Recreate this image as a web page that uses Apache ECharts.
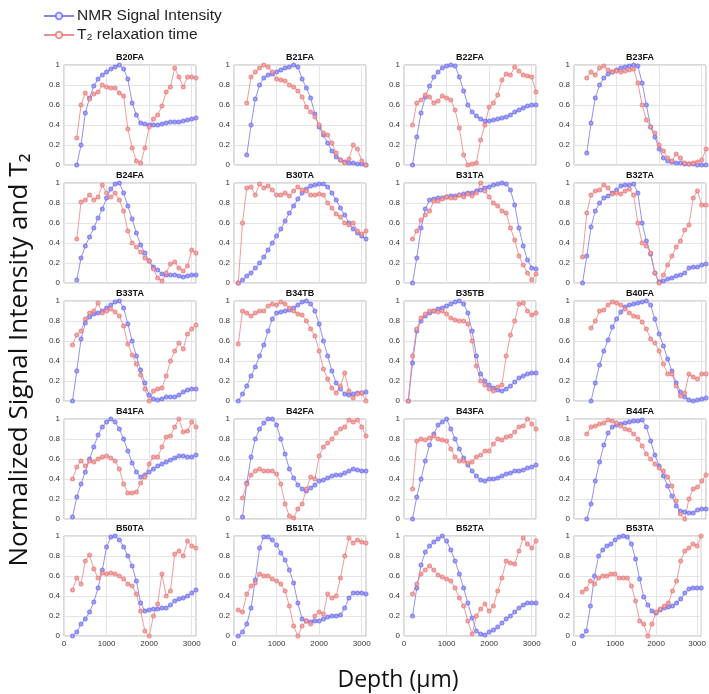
<!DOCTYPE html>
<html><head><meta charset="utf-8">
<script src="https://cdn.jsdelivr.net/npm/echarts@6/dist/echarts.min.js"></script>
<style>html,body{margin:0;padding:0;background:#fff}#chart{width:709px;height:694px}</style>
</head><body><div id="chart"></div>
<script>
// Depth grid (µm)
const depth = [100,200,300,400,500,600,700,800,900,1000,1100,1200,1300,1400,1500,1600,1700,1800,1900,2000,2100,2200,2300,2400,2500,2600,2700,2800,2900,3000,3100];
const xTickValues = [0,1000,2000,3000];
const yTickValues = [0,0.2,0.4,0.6,0.8,1];

const B20FA_nmr = [null,null,0.0,0.2,0.52,0.67,0.79,0.86,0.9,0.93,0.96,0.98,1.0,0.96,0.86,0.62,0.5,0.42,0.41,0.4,0.4,0.4,0.41,0.42,0.43,0.43,0.43,0.44,0.45,0.46,0.47];
const B20FA_t2  = [null,null,0.27,0.6,0.72,0.66,0.71,0.73,0.8,0.78,0.77,0.77,0.72,0.69,0.36,0.17,0.04,0.02,0.17,0.38,0.46,0.5,0.59,0.73,0.78,0.97,0.88,0.78,0.88,0.88,0.87];
const B21FA_nmr = [null,null,0.1,0.4,0.66,0.8,0.87,0.9,0.91,0.93,0.95,0.97,0.98,1.0,0.98,0.86,0.77,0.67,0.51,0.38,0.3,0.22,0.14,0.08,0.05,0.03,0.02,0.02,0.01,0.01,0.0];
const B21FA_t2  = [null,null,0.62,0.88,0.93,0.97,1.0,0.98,0.93,0.86,0.85,0.84,0.8,0.78,0.74,0.68,0.58,0.53,0.48,0.4,0.32,0.3,0.22,0.12,0.05,0.02,0.06,0.2,0.16,0.04,0.0];
const B22FA_nmr = [null,0.0,0.28,0.52,0.68,0.79,0.88,0.93,0.97,0.99,1.0,0.99,0.88,0.74,0.6,0.53,0.49,0.46,0.44,0.44,0.45,0.46,0.47,0.48,0.5,0.53,0.55,0.57,0.59,0.6,0.6];
const B22FA_t2  = [null,0.4,0.62,0.65,0.7,0.68,0.62,0.64,0.69,0.67,0.65,0.55,0.37,0.1,0.0,0.01,0.02,0.25,0.4,0.58,0.62,0.7,0.85,0.91,0.9,0.98,0.94,0.9,0.89,0.88,0.73];
const B23FA_nmr = [null,null,0.12,0.42,0.67,0.8,0.87,0.91,0.93,0.95,0.97,0.98,0.99,1.0,0.99,0.82,0.6,0.38,0.28,0.16,0.07,0.04,0.03,0.02,0.02,0.01,0.01,0.01,0.0,0.0,0.0];
const B23FA_t2  = [null,null,0.87,0.93,0.9,0.97,0.99,0.95,0.93,0.94,0.93,0.94,0.95,0.96,0.82,0.6,0.45,0.38,0.32,0.2,0.14,0.07,0.04,0.11,0.07,0.02,0.01,0.02,0.03,0.05,0.16];

const B24FA_nmr = [null,null,0.03,0.25,0.37,0.46,0.55,0.65,0.74,0.85,0.94,0.99,1.0,0.9,0.77,0.64,0.5,0.38,0.3,0.22,0.16,0.13,0.09,0.08,0.08,0.08,0.07,0.06,0.07,0.08,0.08];
const B24FA_t2  = [null,null,0.44,0.81,0.83,0.88,0.83,0.86,0.98,0.9,0.86,0.9,0.83,0.72,0.52,0.4,0.36,0.31,0.25,0.22,0.14,0.05,0.02,0.1,0.19,0.21,0.15,0.12,0.17,0.33,0.3];
const B30TA_nmr = [0.0,0.03,0.07,0.1,0.15,0.2,0.26,0.33,0.4,0.47,0.54,0.62,0.7,0.77,0.84,0.9,0.94,0.97,0.98,0.99,0.99,0.96,0.9,0.83,0.75,0.68,0.6,0.54,0.5,0.47,0.44];
const B30TA_t2  = [0.0,0.6,0.95,0.96,0.88,0.99,0.95,0.97,0.93,0.88,0.88,0.9,0.87,0.92,0.96,0.93,0.92,0.88,0.88,0.89,0.88,0.8,0.75,0.69,0.66,0.6,0.58,0.6,0.52,0.49,0.52];
const B31TA_nmr = [null,0.0,0.25,0.55,0.74,0.83,0.84,0.85,0.85,0.86,0.87,0.87,0.88,0.89,0.9,0.9,0.92,0.93,0.95,0.96,0.98,0.99,1.0,0.99,0.93,0.78,0.55,0.37,0.23,0.15,0.14];
const B31TA_t2  = [null,0.44,0.52,0.63,0.68,0.72,0.82,0.82,0.84,0.86,0.85,0.85,0.88,0.86,0.89,0.87,0.9,1.0,0.92,0.86,0.8,0.77,0.72,0.7,0.55,0.43,0.27,0.18,0.1,0.03,0.09];
const B32TA_nmr = [null,0.0,0.27,0.56,0.72,0.8,0.85,0.87,0.9,0.93,0.97,0.98,0.98,0.99,0.9,0.6,0.42,0.29,0.1,0.01,0.02,0.04,0.05,0.07,0.08,0.1,0.15,0.16,0.16,0.18,0.19];
const B32TA_t2  = [null,0.26,0.7,0.88,0.92,0.93,0.98,0.95,0.89,0.9,0.89,0.92,0.94,0.88,0.6,0.4,0.37,0.3,0.1,0.0,0.08,0.18,0.27,0.36,0.42,0.53,0.58,0.85,0.92,0.78,0.78];

const B33TA_nmr = [null,0.0,0.3,0.62,0.78,0.84,0.87,0.88,0.9,0.93,0.96,0.99,1.0,0.93,0.77,0.6,0.45,0.31,0.18,0.06,0.02,0.01,0.02,0.04,0.04,0.04,0.06,0.09,0.11,0.12,0.12];
const B33TA_t2  = [null,0.56,0.66,0.7,0.82,0.88,0.9,0.98,0.88,0.9,0.92,0.89,0.85,0.75,0.57,0.46,0.37,0.26,0.12,0.0,0.1,0.12,0.13,0.25,0.4,0.5,0.58,0.52,0.67,0.72,0.76];
const B34TB_nmr = [0.0,0.07,0.15,0.25,0.34,0.45,0.56,0.7,0.82,0.88,0.89,0.9,0.91,0.93,0.96,0.99,1.0,0.97,0.9,0.77,0.6,0.45,0.3,0.18,0.12,0.07,0.06,0.07,0.08,0.08,0.09];
const B34TB_t2  = [0.57,0.9,0.88,0.85,0.88,0.9,0.9,0.95,0.97,0.96,0.99,0.97,0.93,0.9,0.87,0.86,0.8,0.72,0.65,0.5,0.32,0.22,0.13,0.08,0.15,0.28,0.1,0.03,0.07,0.08,0.0];
const B35TB_nmr = [0.0,0.38,0.7,0.8,0.85,0.88,0.9,0.92,0.93,0.95,0.97,0.99,1.0,0.97,0.88,0.7,0.45,0.27,0.2,0.16,0.13,0.11,0.1,0.12,0.15,0.19,0.23,0.25,0.27,0.28,0.28];
const B35TB_t2  = [0.0,0.45,0.72,0.83,0.87,0.9,0.9,0.89,0.9,0.87,0.83,0.81,0.8,0.8,0.77,0.6,0.35,0.2,0.16,0.12,0.1,0.14,0.16,0.45,0.66,0.8,0.97,0.98,0.9,0.86,0.88];
const B40FA_nmr = [null,null,null,0.0,0.18,0.36,0.5,0.61,0.74,0.82,0.89,0.94,0.96,0.97,0.98,0.99,1.0,0.96,0.82,0.67,0.55,0.42,0.3,0.18,0.09,0.04,0.01,0.0,0.01,0.02,0.03];
const B40FA_t2  = [null,null,null,0.73,0.8,0.9,0.91,0.96,0.99,0.98,0.96,0.92,0.88,0.85,0.84,0.79,0.72,0.62,0.58,0.5,0.37,0.27,0.27,0.15,0.05,0.08,0.27,0.24,0.22,0.27,0.27];

const B41FA_nmr = [null,0.02,0.22,0.35,0.47,0.6,0.72,0.84,0.92,0.97,1.0,0.97,0.9,0.8,0.68,0.56,0.47,0.42,0.44,0.47,0.5,0.53,0.55,0.57,0.59,0.61,0.63,0.63,0.62,0.62,0.64];
const B41FA_t2  = [null,0.4,0.52,0.58,0.53,0.58,0.57,0.6,0.62,0.63,0.61,0.58,0.5,0.35,0.26,0.26,0.27,0.36,0.42,0.55,0.62,0.62,0.72,0.82,0.83,0.92,1.0,0.87,0.88,0.97,0.92];
const B42FA_nmr = [null,0.02,0.36,0.62,0.8,0.9,0.96,1.0,1.0,0.94,0.8,0.65,0.5,0.41,0.34,0.3,0.28,0.31,0.34,0.38,0.39,0.41,0.43,0.44,0.44,0.46,0.48,0.5,0.49,0.48,0.48];
const B42FA_t2  = [null,0.21,0.35,0.44,0.48,0.5,0.48,0.48,0.48,0.45,0.35,0.15,0.03,0.01,0.1,0.15,0.3,0.42,0.4,0.63,0.72,0.76,0.8,0.86,0.9,0.92,0.99,0.97,0.99,0.92,0.83];
const B43FA_nmr = [null,0.0,0.22,0.4,0.58,0.74,0.85,0.94,0.97,1.0,0.9,0.8,0.7,0.61,0.54,0.48,0.43,0.39,0.38,0.4,0.4,0.41,0.43,0.45,0.46,0.48,0.48,0.49,0.51,0.52,0.54];
const B43FA_t2  = [null,0.3,0.78,0.8,0.79,0.81,0.83,0.8,0.79,0.78,0.7,0.62,0.58,0.58,0.56,0.57,0.62,0.64,0.68,0.68,0.75,0.8,0.79,0.82,0.83,0.87,0.92,0.93,1.0,0.95,0.9];
const B44FA_nmr = [null,null,0.0,0.15,0.38,0.57,0.74,0.86,0.92,0.94,0.95,0.96,0.97,0.98,0.98,0.99,0.92,0.78,0.64,0.53,0.43,0.33,0.23,0.13,0.08,0.07,0.06,0.06,0.09,0.1,0.1];
const B44FA_t2  = [null,null,0.85,0.92,0.93,0.95,0.96,0.99,0.98,0.96,0.93,0.9,0.89,0.85,0.8,0.73,0.65,0.6,0.55,0.51,0.48,0.42,0.33,0.18,0.05,0.0,0.2,0.3,0.32,0.38,0.44];

const B50TA_nmr = [null,0.0,0.04,0.12,0.17,0.24,0.34,0.48,0.66,0.89,0.99,1.0,0.96,0.89,0.8,0.7,0.55,0.33,0.25,0.26,0.27,0.27,0.28,0.28,0.31,0.35,0.37,0.38,0.4,0.43,0.46];
const B50TA_t2  = [null,0.46,0.58,0.52,0.75,0.81,0.67,0.58,0.63,0.62,0.63,0.62,0.6,0.57,0.52,0.5,0.42,0.25,0.05,0.0,0.2,0.32,0.62,0.4,0.45,0.82,0.85,0.8,0.95,0.9,0.88];
const B51TA_nmr = [0.0,0.04,0.12,0.28,0.56,0.88,0.99,0.99,0.96,0.91,0.83,0.76,0.66,0.53,0.33,0.17,0.15,0.14,0.15,0.15,0.17,0.19,0.2,0.2,0.21,0.28,0.38,0.43,0.43,0.43,0.42];
const B51TA_t2  = [0.26,0.24,0.42,0.5,0.53,0.62,0.6,0.6,0.57,0.55,0.52,0.45,0.3,0.1,0.0,0.1,0.15,0.12,0.2,0.24,0.22,0.42,0.38,0.4,0.58,0.8,0.98,0.93,0.96,0.94,0.93];
const B52TA_nmr = [null,0.2,0.48,0.71,0.84,0.9,0.94,0.97,1.0,0.95,0.86,0.75,0.62,0.48,0.33,0.18,0.05,0.02,0.01,0.04,0.06,0.09,0.13,0.17,0.2,0.24,0.28,0.31,0.33,0.33,0.33];
const B52TA_t2  = [null,0.42,0.52,0.62,0.66,0.7,0.66,0.61,0.59,0.57,0.55,0.48,0.38,0.3,0.15,0.02,0.2,0.27,0.32,0.25,0.3,0.45,0.58,0.75,0.73,0.72,0.85,0.98,0.92,0.88,0.95];
const B53TA_nmr = [null,0.0,0.05,0.3,0.6,0.8,0.86,0.9,0.92,0.96,0.99,1.0,0.99,0.92,0.77,0.57,0.39,0.31,0.25,0.23,0.26,0.28,0.29,0.3,0.33,0.37,0.43,0.47,0.48,0.48,0.48];
const B53TA_t2  = [null,0.44,0.47,0.55,0.52,0.58,0.6,0.6,0.62,0.62,0.58,0.58,0.58,0.5,0.35,0.15,0.12,0.0,0.12,0.24,0.27,0.3,0.33,0.45,0.55,0.75,0.85,0.88,0.92,0.9,1.0];

const panelNames = ['B20FA','B21FA','B22FA','B23FA','B24FA','B30TA','B31TA','B32TA','B33TA','B34TB','B35TB','B40FA','B41FA','B42FA','B43FA','B44FA','B50TA','B51TA','B52TA','B53TA'];
const panelNmr = [B20FA_nmr,B21FA_nmr,B22FA_nmr,B23FA_nmr,B24FA_nmr,B30TA_nmr,B31TA_nmr,B32TA_nmr,B33TA_nmr,B34TB_nmr,B35TB_nmr,B40FA_nmr,B41FA_nmr,B42FA_nmr,B43FA_nmr,B44FA_nmr,B50TA_nmr,B51TA_nmr,B52TA_nmr,B53TA_nmr];
const panelT2  = [B20FA_t2,B21FA_t2,B22FA_t2,B23FA_t2,B24FA_t2,B30TA_t2,B31TA_t2,B32TA_t2,B33TA_t2,B34TB_t2,B35TB_t2,B40FA_t2,B41FA_t2,B42FA_t2,B43FA_t2,B44FA_t2,B50TA_t2,B51TA_t2,B52TA_t2,B53TA_t2];
const seriesNames = ['NMR Signal Intensity','T\u2082 relaxation time'];

const chart = echarts.init(document.getElementById('chart'), null, {renderer:'canvas'});
const rowTops = [65,183,301,419,536];
const grids = [], xAxes = [], yAxes = [], series = [], titles = [];
const BLUE = '#6f6ff2', RED = '#ea7b7b';
const tickFont = 'Liberation Sans';

panelNames.forEach((name, i) => {
  const row = Math.floor(i / 4), col = i % 4;
  const left = 64 + col * 170, top = rowTops[row], w = 132, h = 100;
  grids.push({left: left, top: top, width: w, height: h, show: true, borderColor: '#b4b4b4', borderWidth: 1, backgroundColor: '#fff', containLabel: false});
  xAxes.push({
    gridIndex: i, type: 'value', min: xTickValues[0], max: 3100, interval: 1000,
    axisLine: {show: false}, axisTick: {show: false},
    splitLine: {show: true, lineStyle: {color: '#e4e4e4', width: 1}},
    axisLabel: {show: row === 4, showMaxLabel: false, fontSize: 8, color: '#333', margin: 4, fontFamily: tickFont,
      formatter: v => String(v)}
  });
  yAxes.push({
    gridIndex: i, type: 'value', min: yTickValues[0], max: yTickValues[yTickValues.length - 1], interval: 0.2,
    axisLine: {show: false}, axisTick: {show: false},
    splitLine: {show: true, lineStyle: {color: '#e4e4e4', width: 1}},
    axisLabel: {show: true, fontSize: 8, color: '#333', margin: 4, fontFamily: tickFont}
  });
  titles.push({text: name, left: left + w / 2, top: top - 12, textAlign: 'center', padding: 0,
    textStyle: {fontSize: 9, fontWeight: 'bold', color: '#111', fontFamily: tickFont}});
  series.push({
    type: 'line', name: seriesNames[0], xAxisIndex: i, yAxisIndex: i,
    data: depth.map((d, k) => [d, panelNmr[i][k]]),
    symbol: 'emptyCircle', symbolSize: 3, showAllSymbol: true,
    lineStyle: {color: BLUE, width: 0.9, opacity: 0.85},
    itemStyle: {color: BLUE, borderWidth: 0.7, opacity: 0.8},
    animation: false, silent: true
  });
  series.push({
    type: 'line', name: seriesNames[1], xAxisIndex: i, yAxisIndex: i,
    data: depth.map((d, k) => [d, panelT2[i][k]]),
    symbol: 'emptyCircle', symbolSize: 3, showAllSymbol: true,
    lineStyle: {color: RED, width: 0.9, opacity: 0.85},
    itemStyle: {color: RED, borderWidth: 0.7, opacity: 0.8},
    animation: false, silent: true
  });
});

chart.setOption({
  backgroundColor: '#fff',
  animation: false,
  title: titles,
  legend: {
    data: seriesNames, left: 38, top: 3, orient: 'vertical', itemGap: 3,
    itemWidth: 30, itemHeight: 8, selectedMode: false,
    textStyle: {fontSize: 15.5, color: '#222', fontFamily: tickFont, padding: [0, 0, 0, -2]}
  },
  grid: grids, xAxis: xAxes, yAxis: yAxes, series: series,
  graphic: [
    {type: 'text', x: 20, y: 360, rotation: Math.PI / 2,
      style: {text: 'Normalized Signal Intensity and T\u2082', font: '26px "Open Sans"', fill: '#111', align: 'center', verticalAlign: 'middle'}},
    {type: 'text', x: 398, y: 680,
      style: {text: 'Depth (\u00b5m)', font: '23px "Open Sans"', fill: '#111', align: 'center', verticalAlign: 'middle'}}
  ]
});
</script></body></html>
